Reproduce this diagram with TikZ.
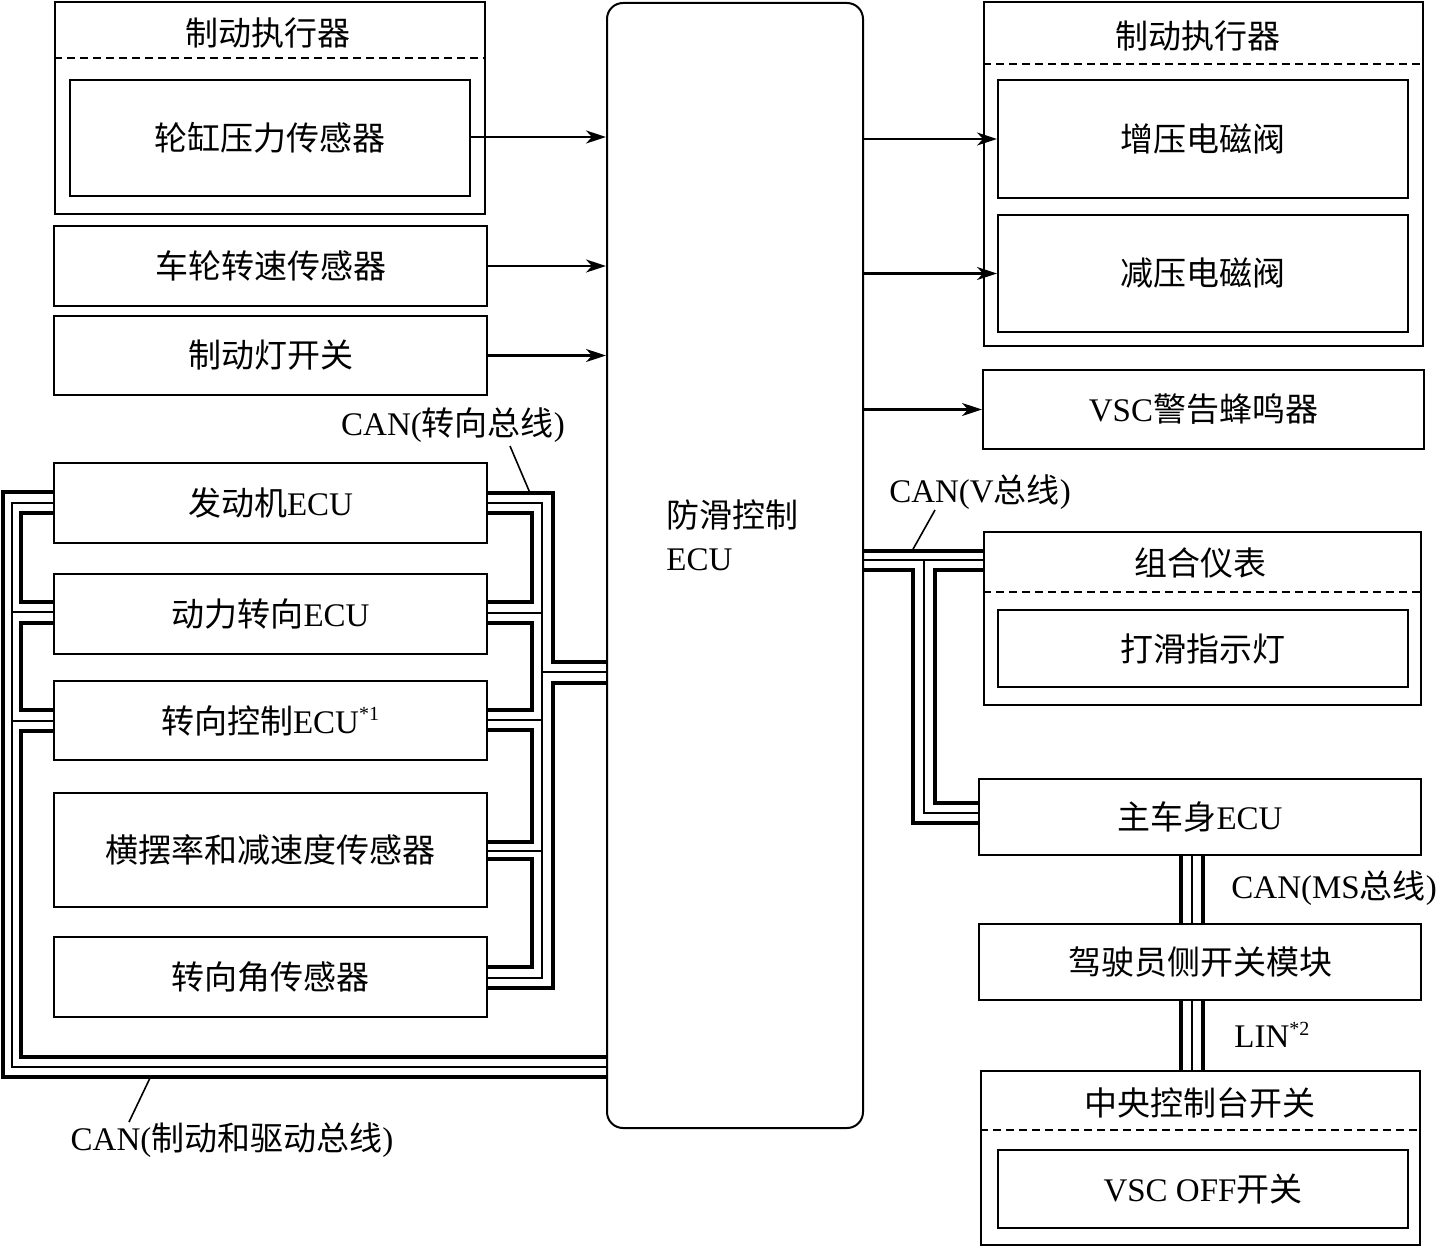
\documentclass[tikz,border=0pt]{standalone}
\usepackage{fontspec}
\setmainfont{Liberation Serif}
\newfontfamily\cjk{Noto Sans CJK SC}
\newcommand\zhtxt[1]{{\cjk #1}}
\usetikzlibrary{arrows.meta}
\begin{document}
\begin{tikzpicture}[x=0.5pt,y=-0.5pt,
  box/.style={draw, line width=1pt, inner sep=0pt, font=\fontsize{16.5}{19.5}\selectfont},
  lbl/.style={inner sep=0pt, font=\fontsize{16.5}{19.5}\selectfont},
  thickbus/.style={line width=2.4pt, line join=miter, line cap=butt},
  thinbus/.style={line width=0.8pt, line join=miter},
  sig/.style={line width=1.1pt, -{Stealth[length=10pt,width=6.5pt,inset=3pt]}},
  dashline/.style={dash pattern=on 4pt off 2.5pt, line width=0.8pt},
  lead/.style={line width=0.8pt}]
\useasboundingbox (0,0) rectangle (1439,1247);

% ---------------- left column ----------------
\node[box, minimum width=215pt, minimum height=106pt] (act1) at (270,108) {};
\node[lbl] (act1t) at (268,33) {\zhtxt{制动执行器}};
\draw[dashline] (act1.west |- 0,58) -- (act1.east |- 0,58);
\node[box, minimum width=200pt, minimum height=58pt] (wcp) at (270,138) {\zhtxt{轮缸压力传感器}};

\node[box, minimum width=216.5pt, minimum height=40pt] (wss) at (270.5,266) {\zhtxt{车轮转速传感器}};
\node[box, minimum width=216.5pt, minimum height=39.5pt] (bls) at (270.5,355.5) {\zhtxt{制动灯开关}};
\node[box, minimum width=216.5pt, minimum height=40pt] (eng) at (270.5,503) {\zhtxt{发动机}ECU};
\node[box, minimum width=216.5pt, minimum height=40pt] (eps) at (270.5,614) {\zhtxt{动力转向}ECU};
\node[box, minimum width=216.5pt, minimum height=39.5pt] (stc) at (270.5,720.5) {\zhtxt{转向控制}ECU\textsuperscript{\fontsize{10}{12}\selectfont *1}};
\node[box, minimum width=216.5pt, minimum height=57pt] (yaw) at (270.5,850) {\zhtxt{横摆率和减速度传感器}};
\node[box, minimum width=216.5pt, minimum height=40pt] (sas) at (270.5,977) {\zhtxt{转向角传感器}};

% ---------------- ECU ----------------
\node[box, rounded corners=8pt, minimum width=128pt, minimum height=562.5pt] (ecu) at (735,565.5) {};
\node[lbl, anchor=west, align=left, font=\fontsize{16.5}{21.5}\selectfont] (ecut) at (666,535) {\zhtxt{防滑控制}\\ECU};

% ---------------- right column ----------------
\node[box, minimum width=219.5pt, minimum height=172pt] (act2) at (1203.5,174) {};
\node[lbl] (act2t) at (1198,36) {\zhtxt{制动执行器}};
\draw[dashline] (act2.west |- 0,64) -- (act2.east |- 0,64);
\node[box, minimum width=205pt, minimum height=59pt] (inc) at (1203,139) {\zhtxt{增压电磁阀}};
\node[box, minimum width=205pt, minimum height=58.5pt] (dec) at (1203,273.5) {\zhtxt{减压电磁阀}};

\node[box, minimum width=220.5pt, minimum height=39.5pt] (vsc) at (1203.5,409.5) {VSC\zhtxt{警告蜂鸣器}};

\node[box, minimum width=218.5pt, minimum height=86.5pt] (meter) at (1202.5,618.5) {};
\node[lbl] (metert) at (1200,563) {\zhtxt{组合仪表}};
\draw[dashline] (meter.west |- 0,592) -- (meter.east |- 0,592);
\node[box, minimum width=205pt, minimum height=38.5pt] (slip) at (1203,648.5) {\zhtxt{打滑指示灯}};

\node[box, minimum width=221pt, minimum height=38pt] (body) at (1200,817) {\zhtxt{主车身}ECU};
\node[box, minimum width=221pt, minimum height=38pt] (dsw) at (1200,962) {\zhtxt{驾驶员侧开关模块}};

\node[box, minimum width=219.5pt, minimum height=87pt] (con) at (1200.5,1158) {};
\node[lbl] (cont) at (1200,1103) {\zhtxt{中央控制台开关}};
\draw[dashline] (con.west |- 0,1130) -- (con.east |- 0,1130);
\node[box, minimum width=205pt, minimum height=39pt] (vscoff) at (1203,1189) {VSC OFF\zhtxt{开关}};

% ---------------- signal arrows ----------------
\draw[sig] (wcp.east |- 0,137) -- (ecu.west |- 0,137);
\draw[sig] (wss.east) -- (ecu.west |- wss.east);
\draw[sig] (bls.east) -- (ecu.west |- bls.east);
\draw[sig] (ecu.east |- inc.west) -- (inc.west);
\draw[sig] (ecu.east |- dec.west) -- (dec.west);
\draw[sig] (ecu.east |- vsc.west) -- (vsc.west);

% ---------------- CAN steering bus (right of left boxes) ----------------
\draw[thickbus] (eng.east |- 0,493) -| (553,662) -- (ecu.west |- 0,662);
\draw[thickbus] (ecu.west |- 0,683) -| (553,988) -- (sas.east |- 0,988);
\draw[thinbus] (eng.east |- 0,503) -| (542,978) -- (sas.east |- 0,978);
\draw[thinbus] (ecu.west |- 0,672) -- (542,672);
\draw[thinbus] (eps.east |- 0,613) -- (542,613);
\draw[thinbus] (stc.east |- 0,720) -- (542,720);
\draw[thinbus] (yaw.east |- 0,851) -- (542,851);
\draw[thickbus] (eng.east |- 0,513) -| (532,602) -- (eps.east |- 0,602);
\draw[thickbus] (eps.east |- 0,623) -| (532,710) -- (stc.east |- 0,710);
\draw[thickbus] (stc.east |- 0,730) -| (532,842) -- (yaw.east |- 0,842);
\draw[thickbus] (yaw.east |- 0,859) -| (532,967) -- (sas.east |- 0,967);

% ---------------- CAN brake & drive bus (left) ----------------
\draw[thickbus] (eng.west |- 0,492) -| (3,1077) -- (ecu.west |- 0,1077);
\draw[thinbus] (eng.west |- 0,503) -| (12,1067) -- (ecu.west |- 0,1067);
\draw[thinbus] (eps.west |- 0,612) -- (12,612);
\draw[thinbus] (stc.west |- 0,721) -- (12,721);
\draw[thickbus] (eng.west |- 0,513) -| (21,602) -- (eps.west |- 0,602);
\draw[thickbus] (eps.west |- 0,623) -| (21,710) -- (stc.west |- 0,710);
\draw[thickbus] (stc.west |- 0,731) -| (21,1057) -- (ecu.west |- 0,1057);

% ---------------- CAN V bus ----------------
\draw[thickbus] (ecu.east |- 0,551) -- (meter.west |- 0,551);
\draw[thinbus] (ecu.east |- 0,560) -- (meter.west |- 0,560);
\draw[thinbus] (924,560) -- (924,813) -- (body.west |- 0,813);
\draw[thickbus] (ecu.east |- 0,570) -| (913,823) -- (body.west |- 0,823);
\draw[thickbus] (meter.west |- 0,570) -| (935,803) -- (body.west |- 0,803);

% ---------------- CAN MS bus and LIN ----------------
\draw[thickbus] (1181,0 |- body.south) -- (1181,0 |- dsw.north);
\draw[thinbus]  (1192,0 |- body.south) -- (1192,0 |- dsw.north);
\draw[thickbus] (1203,0 |- body.south) -- (1203,0 |- dsw.north);
\draw[thickbus] (1181,0 |- dsw.south) -- (1181,0 |- con.north);
\draw[thinbus]  (1192,0 |- dsw.south) -- (1192,0 |- con.north);
\draw[thickbus] (1203,0 |- dsw.south) -- (1203,0 |- con.north);

% ---------------- bus labels ----------------
\node[lbl] (lsteer) at (453,425) {CAN(\zhtxt{转向总线})};
\coordinate (psteer) at (530,493);
\draw[lead] (510,446) -- (psteer);
\node[lbl] (lbrake) at (232,1140) {CAN(\zhtxt{制动和驱动总线})};
\coordinate (pbrake) at (150,1078);
\draw[lead] (129,1122) -- (pbrake);
\node[lbl] (lv) at (980,492) {CAN(V\zhtxt{总线})};
\coordinate (pv) at (912,551);
\draw[lead] (935,510) -- (pv);
\node[lbl, anchor=west] (lms) at (1231,888) {CAN(MS\zhtxt{总线})};
\node[lbl, anchor=west] (llin) at (1234,1035) {LIN\textsuperscript{\fontsize{10}{12}\selectfont *2}};
\end{tikzpicture}
\end{document}
